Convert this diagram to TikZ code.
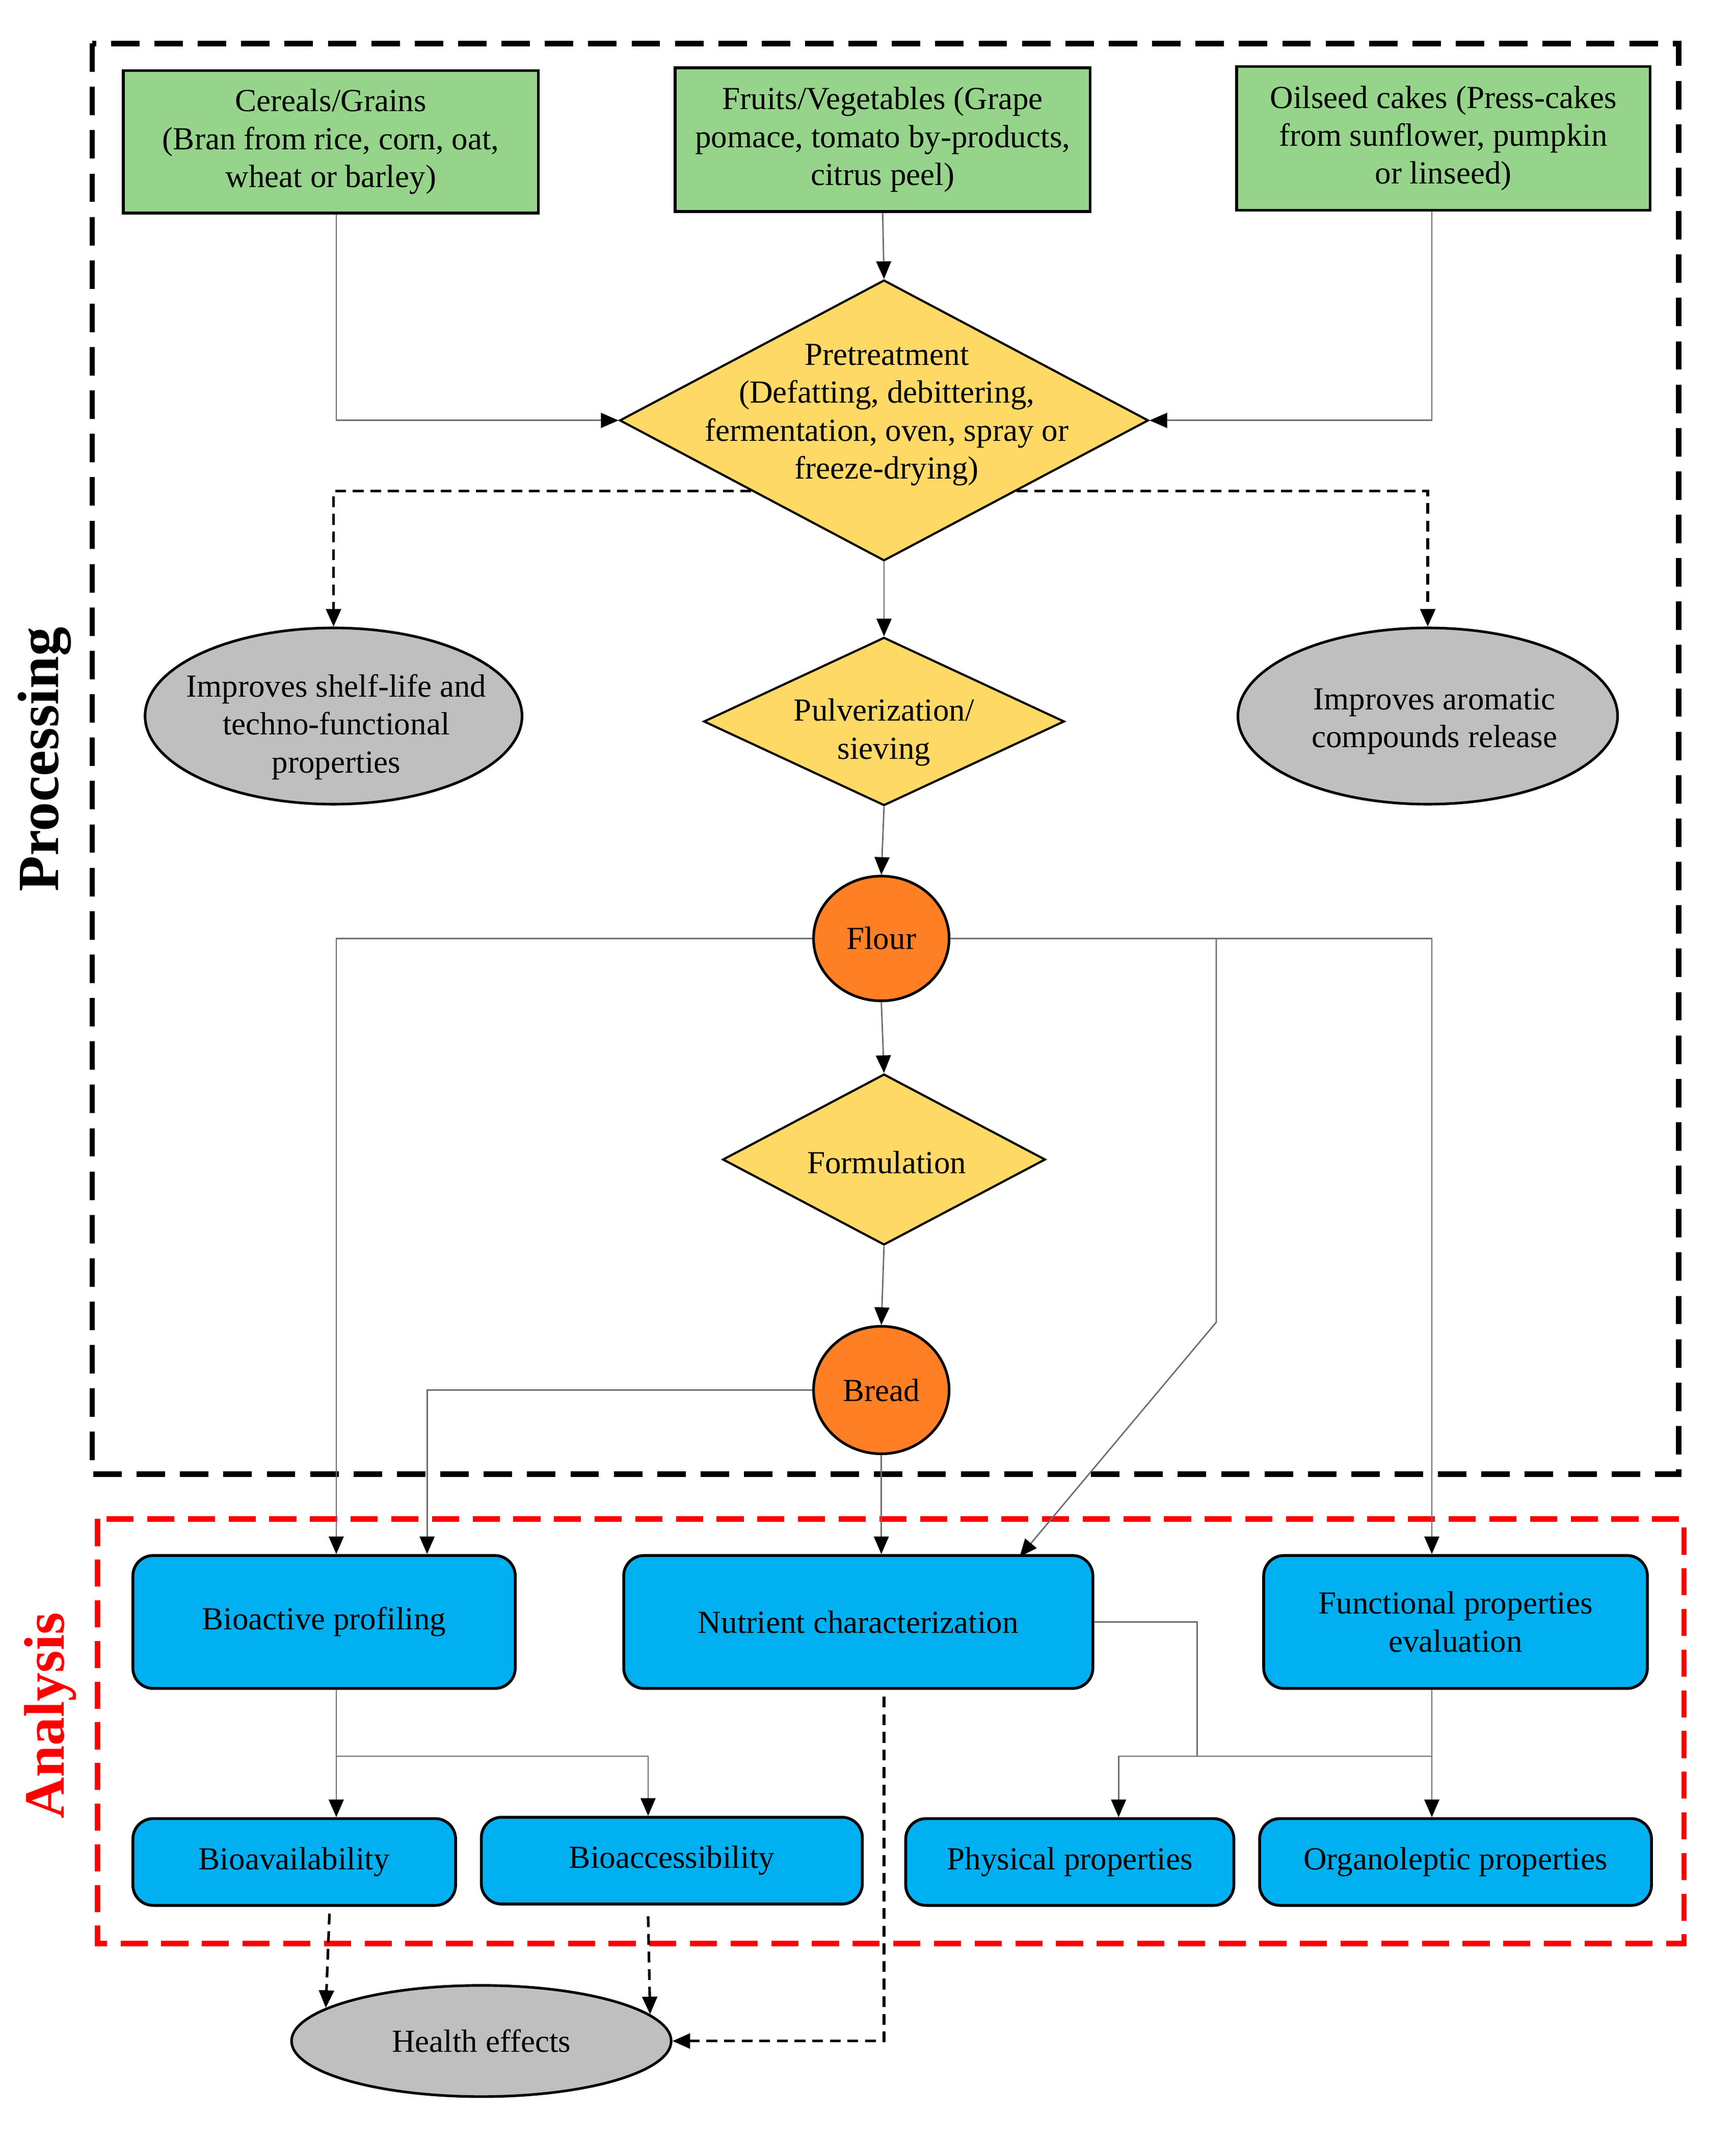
\documentclass[tikz,border=0pt]{standalone}
\usepackage{fontspec}
\setmainfont{Liberation Serif}
\usetikzlibrary{shapes.geometric,arrows.meta,calc}
\definecolor{cgreen}{HTML}{96D48B}
\definecolor{cyellow}{HTML}{FFD966}
\definecolor{corange}{HTML}{FF7F24}
\definecolor{cgray}{HTML}{BFBFBF}
\definecolor{cblue}{HTML}{00B0F0}
\definecolor{lgray}{HTML}{6E6E6E}
\begin{document}
\begin{tikzpicture}[x=0.02cm,y=-0.02cm,
  every node/.style={font=\fontsize{13.5}{15.9}\selectfont, inner sep=0pt, align=center},
  gbox/.style={rectangle, draw=black, line width=1.2pt, fill=cgreen},
  ydiam/.style={diamond, draw=black, line width=0.9pt, fill=cyellow},
  gell/.style={ellipse, draw=black, line width=1.1pt, fill=cgray},
  oell/.style={ellipse, draw=black, line width=1.1pt, fill=corange},
  bbox/.style={rectangle, rounded corners=0.3cm, draw=black, line width=1.2pt, fill=cblue},
  conn/.style={draw=lgray, line width=0.6pt, -{Triangle[length=0.26cm,width=0.22cm,color=black,fill=black]}},
  plain/.style={draw=lgray, line width=0.6pt},
  dconn/.style={draw=black, line width=1.1pt, dash pattern=on 0.16cm off 0.1cm, -{Triangle[length=0.26cm,width=0.22cm,color=black,fill=black]}},
  bdash/.style={draw=black, line width=2.3pt, dash pattern=on 0.42cm off 0.22cm},
  rdash/.style={draw=red, line width=2.3pt, dash pattern=on 0.4cm off 0.2cm}
]
\useasboundingbox[fill=white] (0,0) rectangle (1280,1578);

% frames
\draw[bdash] (68,32) rectangle (1238,1087);
\draw[rdash] (72,1120) rectangle (1242,1433);
\node[rotate=90, font=\fontsize{24.5}{28}\selectfont\bfseries] (proc) at (33,560) {Processing};
\node[rotate=90, font=\fontsize{24}{28}\selectfont\bfseries, text=red] (anal) at (37,1265) {Analysis};

% sources
\node[gbox, minimum width=306*0.02cm, minimum height=105*0.02cm] (cer) at (244,104.5) {Cereals/Grains\\(Bran from rice, corn, oat,\\wheat or barley)};
\node[gbox, minimum width=306*0.02cm, minimum height=106*0.02cm] (fru) at (651,103) {Fruits/Vegetables (Grape\\pomace, tomato by-products,\\citrus peel)};
\node[gbox, minimum width=305*0.02cm, minimum height=106*0.02cm] (oil) at (1064.5,102) {Oilseed cakes (Press-cakes\\from sunflower, pumpkin\\or linseed)};

% pretreatment
\node[ydiam, minimum width=390*0.02cm, minimum height=207*0.02cm] (pre) at (652,310) {};
\node (pretx) at (654,306) {Pretreatment\\(Defatting, debittering,\\fermentation, oven, spray or\\freeze-drying)};

% side ellipses
\node[gell, minimum width=278*0.02cm, minimum height=130*0.02cm] (el1) at (246,528) {};
\node (el1tx) at (248,536) {Improves shelf-life and\\techno-functional\\properties};
\node[gell, minimum width=280*0.02cm, minimum height=130*0.02cm] (el2) at (1053,528) {};
\node (el2tx) at (1058,532) {Improves aromatic\\compounds release};

% pulverization
\node[ydiam, minimum width=266*0.02cm, minimum height=124*0.02cm] (pul) at (652,532) {};
\node (pultx) at (652,540) {Pulverization/\\sieving};

% flour
\node[oell, minimum width=100*0.02cm, minimum height=92*0.02cm] (flour) at (650,692) {Flour};

% formulation
\node[ydiam, minimum width=238*0.02cm, minimum height=126*0.02cm] (form) at (652,855) {};
\node (formtx) at (654,857) {Formulation};

% bread
\node[oell, minimum width=100*0.02cm, minimum height=94*0.02cm] (bread) at (650,1025) {Bread};

% analysis boxes
\node[bbox, minimum width=282*0.02cm, minimum height=98*0.02cm] (bio) at (239,1196) {Bioactive profiling};
\node[bbox, minimum width=346*0.02cm, minimum height=98*0.02cm] (nut) at (633,1196) {Nutrient characterization};
\node[bbox, minimum width=283*0.02cm, minimum height=98*0.02cm] (fun) at (1073.5,1196) {Functional properties\\evaluation};
\node[bbox, minimum width=238*0.02cm, minimum height=64*0.02cm] (bav) at (217,1373) {Bioavailability};
\node[bbox, minimum width=281*0.02cm, minimum height=64*0.02cm] (bac) at (495.5,1372) {Bioaccessibility};
\node[bbox, minimum width=242*0.02cm, minimum height=64*0.02cm] (phy) at (789,1373) {Physical properties};
\node[bbox, minimum width=289*0.02cm, minimum height=64*0.02cm] (org) at (1073.5,1373) {Organoleptic properties};

% health
\node[gell, minimum width=280*0.02cm, minimum height=82*0.02cm] (health) at (355,1505) {Health effects};

% connectors: sources -> pretreatment
\draw[conn] ($(cer.south)+(4,0)$) |- (pre.west);
\draw[conn] (fru.south) -- (pre.north);
\draw[conn] ($(oil.south)+(-8.5,0)$) |- (pre.east);

% pretreatment -> side effects
\draw[dconn] (pre.south west) -| (el1.north);
\draw[dconn] (pre.south east) -| (el2.north);

% main chain
\draw[conn] (pre.south) -- (pul.north);
\draw[conn] (pul.south) -- (flour.north);
\draw[conn] (flour.south) -- (form.north);
\draw[conn] (form.south) -- (bread.north);

% flour branches
\draw[conn] (flour.west) -| ($(bio.north)+(9,0)$);
\draw[conn] (flour.east) -| ($(fun.north)+(-17.5,0)$);
\coordinate (j1) at (897,692);
\coordinate (j2) at (897,975);
\draw[conn] (j1) -- (j2) -- ($(nut.north)+(119,2)$);

% bread branches
\draw[conn] (bread.west) -| ($(bio.north)+(76,0)$);
\draw[conn] (bread.south) -- (bread.south |- nut.north);

% bioactive -> bioavailability / bioaccessibility
\coordinate (j3) at (248,1295);
\draw[conn] ($(bio.south)+(9,0)$) -- (j3 |- bav.north);
\draw[conn] (j3) -| ($(bac.north)+(-17.5,0)$);

% nutrient / functional -> physical / organoleptic
\coordinate (j4) at (883,1295);
\coordinate (j5) at (1056,1295);
\draw[plain] (nut.east) -| (j4);
\draw[conn] ($(fun.south)+(-17.5,0)$) -- ($(org.north)+(-17.5,0)$);
\draw[conn] (j5) -| ($(phy.north)+(36,0)$);

% health effects
\draw[dconn] ($(bav.south)+(26,5)$) -- (health.168);
\draw[dconn] ($(bac.south)+(-17.5,8)$) -- (health.9);
\draw[dconn] ($(nut.south)+(19,5)$) |- (health.east);
\end{tikzpicture}
\end{document}
